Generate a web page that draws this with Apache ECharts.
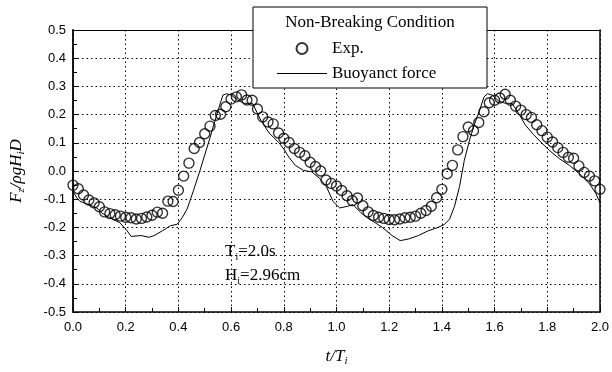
<!DOCTYPE html>
<html>
<head>
<meta charset="utf-8">
<script src="https://cdn.jsdelivr.net/npm/echarts@6/dist/echarts.min.js"></script>
<style>
html,body{margin:0;padding:0;background:#fff;}
#c{width:612px;height:372px;}
</style>
</head>
<body>
<div id="c"></div>
<script>
// Experimental data sampled every 0.02 in t/Ti
const expStep = 0.02;
const expV = [-0.050,-0.063,-0.085,-0.103,-0.113,-0.127,-0.145,-0.151,-0.155,-0.160,
-0.164,-0.166,-0.170,-0.168,-0.163,-0.157,-0.146,-0.150,-0.107,-0.108,
-0.068,-0.018,0.028,0.080,0.101,0.132,0.159,0.197,0.201,0.228,
0.255,0.263,0.270,0.252,0.251,0.220,0.192,0.174,0.167,0.135,
0.116,0.101,0.080,0.066,0.054,0.031,0.016,0.000,-0.032,-0.044,
-0.053,-0.069,-0.088,-0.105,-0.096,-0.123,-0.145,-0.158,-0.164,-0.168,
-0.172,-0.173,-0.170,-0.166,-0.164,-0.160,-0.150,-0.140,-0.125,-0.095,
-0.065,-0.010,0.020,0.075,0.122,0.156,0.143,0.172,0.210,0.242,
0.251,0.259,0.272,0.251,0.230,0.216,0.200,0.190,0.164,0.143,
0.120,0.103,0.083,0.066,0.049,0.045,0.018,-0.005,-0.018,-0.035,-0.065];

// Buoyancy force curve
const lineT = [0,0.015,0.027,0.052,0.090,0.108,0.139,0.177,0.202,0.221,0.258,0.289,0.308,0.339,0.370,0.395,0.414,0.433,0.457,0.482,0.501,0.520,0.538,0.557,0.569,0.582,0.601,0.625,0.650,0.681,0.713,0.744,0.781,0.800,0.819,0.844,0.875,0.906,0.937,0.962,0.987,1.012,1.043,1.062,1.093,1.124,1.136,1.174,1.211,1.242,1.274,1.311,1.348,1.386,1.410,1.429,1.448,1.467,1.485,1.504,1.523,1.541,1.560,1.573,1.591,1.616,1.641,1.666,1.691,1.716,1.747,1.772,1.809,1.847,1.884,1.921,1.959,1.984,2.0];
const lineV = [-0.073,-0.096,-0.108,-0.116,-0.131,-0.148,-0.166,-0.183,-0.208,-0.232,-0.229,-0.235,-0.229,-0.212,-0.194,-0.189,-0.166,-0.135,-0.070,0.002,0.060,0.118,0.176,0.234,0.269,0.274,0.269,0.251,0.240,0.240,0.180,0.135,0.101,0.078,0.049,0.020,0.002,-0.003,-0.027,-0.056,-0.108,-0.131,-0.125,-0.119,-0.148,-0.171,-0.177,-0.200,-0.229,-0.247,-0.241,-0.229,-0.212,-0.200,-0.189,-0.171,-0.125,-0.055,0.037,0.106,0.164,0.210,0.263,0.274,0.269,0.248,0.240,0.240,0.205,0.164,0.130,0.106,0.072,0.043,0.020,-0.009,-0.044,-0.079,-0.113];

const seriesNames = ['Exp.', 'Buoyanct force'];
const legendTitle = 'Non-Breaking Condition';
const noteT = '{a|T}{s|i}{a|=2.0s}';
const noteH = '{a|H}{s|i}{a|=2.96cm}';

const expData = expV.map((v, i) => [i * expStep, v]);
const lineData = lineT.map((t, i) => [t, lineV[i]]);

const fmt = v => (Math.abs(v) < 1e-9 ? '0.0' : v.toFixed(1));
const SERIF = 'Liberation Serif';
const SANS = 'Liberation Sans';

const chart = echarts.init(document.getElementById('c'), null, {renderer: 'canvas'});
chart.setOption({
  animation: false,
  backgroundColor: '#fff',
  grid: {left: 66, right: 11, top: 30, bottom: 54, containLabel: false},
  xAxis: [{
    type: 'value', min: 0, max: 2, interval: 0.2,
    name: '{i|t/T}{s|i}', nameLocation: 'middle', nameGap: 34,
    nameTextStyle: {rich: {
      i: {fontFamily: SERIF, fontStyle: 'italic', fontSize: 17, color: '#000'},
      s: {fontFamily: SERIF, fontStyle: 'italic', fontSize: 11, color: '#000', padding: [10, 0, 0, 0]}
    }},
    axisLine: {show: true, onZero: false, lineStyle: {color: '#000', width: 1.5}},
    axisTick: {show: true, inside: true, length: 5, lineStyle: {color: '#000'}},
    minorTick: {show: true, splitNumber: 2, length: 4, lineStyle: {color: '#000'}},
    axisLabel: {formatter: fmt, fontFamily: SANS, fontSize: 13, color: '#000', margin: 9},
    splitLine: {show: true, lineStyle: {color: '#000', type: [1.5, 3], width: 1}}
  }, {
    type: 'value', min: 0, max: 2, position: 'top',
    axisLine: {show: true, onZero: false, lineStyle: {color: '#000', width: 1.2}},
    axisTick: {show: false}, axisLabel: {show: false}, splitLine: {show: false}
  }],
  yAxis: [{
    type: 'value', min: -0.5, max: 0.5, interval: 0.1,
    name: '{i|F}{s|z}{i|/ρgH}{s|i}{i|D}', nameLocation: 'middle', nameRotate: 90, nameGap: 46,
    nameTextStyle: {rich: {
      i: {fontFamily: SERIF, fontStyle: 'italic', fontSize: 17, color: '#000'},
      s: {fontFamily: SERIF, fontStyle: 'italic', fontSize: 11, color: '#000', padding: [10, 0, 0, 0]}
    }},
    axisLine: {show: true, onZero: false, lineStyle: {color: '#000', width: 1.8}},
    axisTick: {show: true, inside: true, length: 5, lineStyle: {color: '#000'}},
    minorTick: {show: true, splitNumber: 2, length: 4, lineStyle: {color: '#000'}},
    axisLabel: {formatter: fmt, fontFamily: SANS, fontSize: 13, color: '#000', margin: 7},
    splitLine: {show: true, lineStyle: {color: '#000', type: [1.5, 3], width: 1}}
  }, {
    type: 'value', min: -0.5, max: 0.5, position: 'right',
    axisLine: {show: true, onZero: false, lineStyle: {color: '#000', width: 1.5}},
    axisTick: {show: false}, axisLabel: {show: false}, splitLine: {show: false}
  }],
  legend: {
    orient: 'vertical', left: 277, top: 40, itemWidth: 50, itemHeight: 11, itemGap: 8,
    padding: 0, z: 10,
    textStyle: {fontFamily: SERIF, fontSize: 17, color: '#000'},
    data: [
      {name: seriesNames[0], icon: 'circle'},
      {name: seriesNames[1], icon: 'path://M0,0h50v1.2h-50z', itemStyle: {color: '#000'}}
    ]
  },
  graphic: [
    {type: 'rect', z: 5, shape: {x: 253, y: 7, width: 234, height: 81},
     style: {fill: '#fff', stroke: '#000', lineWidth: 1}},
    {type: 'text', z: 6, x: 370, y: 23,
     style: {text: legendTitle, align: 'center', verticalAlign: 'middle', fontFamily: SERIF, fontSize: 17, fill: '#000'}},
    {type: 'text', z: 6, x: 225, y: 252,
     style: {text: noteT, verticalAlign: 'middle', rich: {
       a: {fontFamily: SERIF, fontSize: 17, fill: '#000'},
       s: {fontFamily: SERIF, fontSize: 10, fill: '#000', padding: [10, 0, 0, 0]}}}},
    {type: 'text', z: 6, x: 225, y: 276,
     style: {text: noteH, verticalAlign: 'middle', rich: {
       a: {fontFamily: SERIF, fontSize: 17, fill: '#000'},
       s: {fontFamily: SERIF, fontSize: 10, fill: '#000', padding: [10, 0, 0, 0]}}}}
  ],
  series: [{
    name: seriesNames[0], type: 'scatter', data: expData, symbol: 'circle', symbolSize: 10,
    clip: false, z: 3,
    itemStyle: {color: 'rgba(255,255,255,0)', borderColor: '#000', borderWidth: 1.4}
  }, {
    name: seriesNames[1], type: 'line', data: lineData, showSymbol: false, symbol: 'none',
    z: 2, lineStyle: {color: '#000', width: 1}, itemStyle: {color: '#000'}
  }]
});
</script>
</body>
</html>
